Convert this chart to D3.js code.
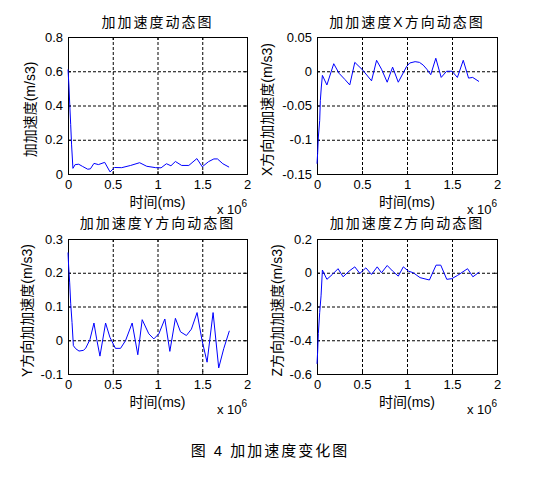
<!DOCTYPE html>
<html>
<head>
<meta charset="utf-8">
<script src="https://cdn.jsdelivr.net/npm/d3@7"></script>
<style>
body { margin: 0; background: #fff; }
text { font-family: "Liberation Sans", Arial, "Noto Sans CJK SC", sans-serif; fill: #000; }
.cjk { font-family: "Liberation Sans", "Noto Sans CJK SC", sans-serif; }
.grid line { stroke: #000; stroke-dasharray: 3,2; stroke-width: 1; }
.grid path { display: none; }
</style>
</head>
<body>
<svg id="chart" width="546" height="486"></svg>
<script>
// chart text
var titles = ["加加速度动态图", "加加速度X方向动态图", "加加速度Y方向动态图", "加加速度Z方向动态图"];
var yLabels = ["加加速度(m/s3)", "X方向加加速度(m/s3)", "Y方向加加速度(m/s3)", "Z方向加加速度(m/s3)"];
var xLabel = "时间(ms)";
var caption = "图 4  加加速度变化图";

// ticks
var xTicks = [0, 0.5, 1, 1.5, 2];
var yTicks1 = [0, 0.2, 0.4, 0.6, 0.8];
var yTicks2 = [-0.15, -0.1, -0.05, 0, 0.05];
var yTicks3 = [-0.1, 0, 0.1, 0.2, 0.3];
var yTicks4 = [-0.6, -0.4, -0.2, 0, 0.2];

// time in units of 10^6 ms, values in m/s3
var time1 = [0, 0.01, 0.02, 0.03, 0.04, 0.055, 0.08, 0.12, 0.16, 0.22, 0.25, 0.29, 0.34, 0.41, 0.47, 0.52, 0.6, 0.7, 0.8, 0.88, 0.98, 1.04, 1.1, 1.15, 1.2, 1.27, 1.35, 1.44, 1.5, 1.57, 1.63, 1.67, 1.73, 1.8];
var jerk1 = [0.61, 0.52, 0.40, 0.29, 0.17, 0.033, 0.055, 0.057, 0.045, 0.028, 0.03, 0.062, 0.055, 0.068, 0.012, 0.038, 0.037, 0.05, 0.066, 0.045, 0.037, 0.036, 0.06, 0.048, 0.073, 0.05, 0.05, 0.09, 0.042, 0.072, 0.088, 0.088, 0.06, 0.04];

var time2 = [0, 0.007, 0.015, 0.03, 0.037, 0.048, 0.06, 0.11, 0.186, 0.245, 0.31, 0.364, 0.42, 0.506, 0.606, 0.662, 0.717, 0.78, 0.84, 0.903, 0.996, 1.03, 1.09, 1.138, 1.18, 1.22, 1.264, 1.32, 1.38, 1.44, 1.5, 1.56, 1.625, 1.684, 1.73, 1.8];
var jerkX = [-0.135, -0.12, -0.096, -0.072, -0.043, -0.023, -0.006, -0.02, 0.011, -0.003, -0.012, -0.02, 0.013, 0.002, -0.014, 0.016, 0.003, -0.016, 0.006, -0.016, 0.007, 0.012, 0.014, 0.013, 0.009, 0.003, -0.005, 0.019, -0.009, 0, 0, -0.009, 0.016, -0.01, -0.009, -0.015];

var time3 = [0, 0.007, 0.019, 0.03, 0.045, 0.06, 0.086, 0.123, 0.171, 0.197, 0.245, 0.29, 0.32, 0.357, 0.42, 0.468, 0.53, 0.587, 0.643, 0.717, 0.78, 0.829, 0.903, 0.959, 1.015, 1.082, 1.138, 1.2, 1.257, 1.323, 1.379, 1.442, 1.498, 1.554, 1.621, 1.684, 1.74, 1.803];
var jerkY = [0.26, 0.22, 0.17, 0.11, 0.053, -0.016, -0.025, -0.032, -0.03, -0.024, 0.002, 0.051, 0.004, -0.047, 0.051, 0.009, -0.024, -0.024, -0.001, 0.051, -0.043, 0.061, 0.019, 0.004, 0.019, 0.063, -0.033, 0.065, 0.025, 0.014, 0.033, 0.082, -0.001, -0.065, 0.082, -0.082, -0.025, 0.028];

var time4 = [0, 0.007, 0.015, 0.03, 0.045, 0.06, 0.11, 0.171, 0.234, 0.29, 0.357, 0.42, 0.476, 0.543, 0.606, 0.669, 0.717, 0.78, 0.84, 0.903, 0.959, 1.015, 1.07, 1.145, 1.249, 1.323, 1.375, 1.442, 1.498, 1.561, 1.673, 1.732, 1.803];
var jerkZ = [-0.54, -0.47, -0.36, -0.235, -0.137, 0.016, -0.039, -0.01, 0.024, -0.024, 0.01, 0.035, -0.004, 0.029, -0.01, 0.035, 0, 0.043, 0.01, -0.02, 0.035, 0.01, 0, -0.029, -0.043, 0.045, 0.045, -0.039, -0.035, -0.016, 0.024, -0.024, 0.004];

var panels = [
  {left: 68, top: 37, w: 179, h: 137, labX: 30, titleY: -10, t: time1, v: jerk1, yTicks: yTicks1},
  {left: 317, top: 37, w: 180, h: 137, labX: 267, titleY: -10, t: time2, v: jerkX, yTicks: yTicks2},
  {left: 68, top: 239, w: 179, h: 135, labX: 27, titleY: -11, t: time3, v: jerkY, yTicks: yTicks3},
  {left: 317, top: 239, w: 180, h: 135, labX: 277, titleY: -11, t: time4, v: jerkZ, yTicks: yTicks4}
];

var svg = d3.select("#chart");
svg.append("rect").attr("width", 546).attr("height", 486).attr("fill", "#fff");

function fmt(d) { return String(+d.toFixed(2)); }

panels.forEach(function(p, i) {
  var x = d3.scaleLinear().domain([0, 2]).range([0, p.w]);
  var y = d3.scaleLinear().domain(d3.extent(p.yTicks)).range([p.h, 0]);

  var g = svg.append("g")
    .attr("transform", "translate(" + p.left + "," + p.top + ")");

  g.append("rect")
    .attr("width", p.w).attr("height", p.h)
    .attr("fill", "#fff");

  // dashed grid
  g.append("g").attr("class", "grid")
    .call(d3.axisBottom(x).tickValues(xTicks.slice(1, -1)).tickSize(p.h).tickFormat(""));
  g.append("g").attr("class", "grid")
    .call(d3.axisLeft(y).tickValues(p.yTicks.slice(1, -1)).tickSize(-p.w).tickFormat(""));

  // axes, ticks pointing inward
  var xa = g.append("g")
    .attr("transform", "translate(0," + p.h + ")")
    .call(d3.axisBottom(x).tickValues(xTicks).tickSize(-3).tickPadding(6).tickFormat(fmt));
  var ya = g.append("g")
    .call(d3.axisLeft(y).tickValues(p.yTicks).tickSize(-3).tickPadding(5).tickFormat(fmt));
  g.append("g")
    .call(d3.axisTop(x).tickValues(xTicks).tickSize(-3).tickFormat(""));
  g.append("g")
    .attr("transform", "translate(" + p.w + ",0)")
    .call(d3.axisRight(y).tickValues(p.yTicks).tickSize(-3).tickFormat(""));

  g.selectAll(".domain").attr("stroke", "#000");
  g.selectAll(".tick line").attr("stroke", "#000");
  xa.selectAll("text").style("font-size", "13px").attr("dy", "0.72em");
  ya.selectAll("text").style("font-size", "13px");

  // series
  var line = d3.line()
    .x(function(d, j) { return x(p.t[j]); })
    .y(function(d) { return y(d); });
  g.append("path")
    .datum(p.v)
    .attr("d", line)
    .attr("fill", "none")
    .attr("stroke", "#0000ff")
    .attr("stroke-width", 1);

  // title
  g.append("text")
    .attr("class", "cjk")
    .attr("x", p.w / 2)
    .attr("y", p.titleY)
    .attr("text-anchor", "middle")
    .style("font-size", "14px")
    .style("letter-spacing", "2px")
    .text(titles[i]);

  // x label
  g.append("text")
    .attr("class", "cjk")
    .attr("x", p.w / 2)
    .attr("y", p.h + 33)
    .attr("text-anchor", "middle")
    .style("font-size", "14px")
    .text(xLabel);

  // exponent
  var ex = g.append("text")
    .attr("x", p.w - 30)
    .attr("y", p.h + 40)
    .style("font-size", "13px")
    .text("x 10");
  ex.append("tspan")
    .attr("dy", -7)
    .style("font-size", "10px")
    .text("6");

  // y label
  svg.append("text")
    .attr("class", "cjk")
    .attr("transform", "translate(" + p.labX + "," + (p.top + p.h / 2 + 4) + ") rotate(-90)")
    .attr("text-anchor", "middle")
    .attr("dominant-baseline", "central")
    .style("font-size", "14px")
    .text(yLabels[i]);
});

svg.append("text")
  .attr("class", "cjk")
  .attr("x", 270)
  .attr("y", 456)
  .attr("text-anchor", "middle")
  .style("font-size", "15px")
  .style("letter-spacing", "2px")
  .text(caption);
</script>
</body>
</html>
